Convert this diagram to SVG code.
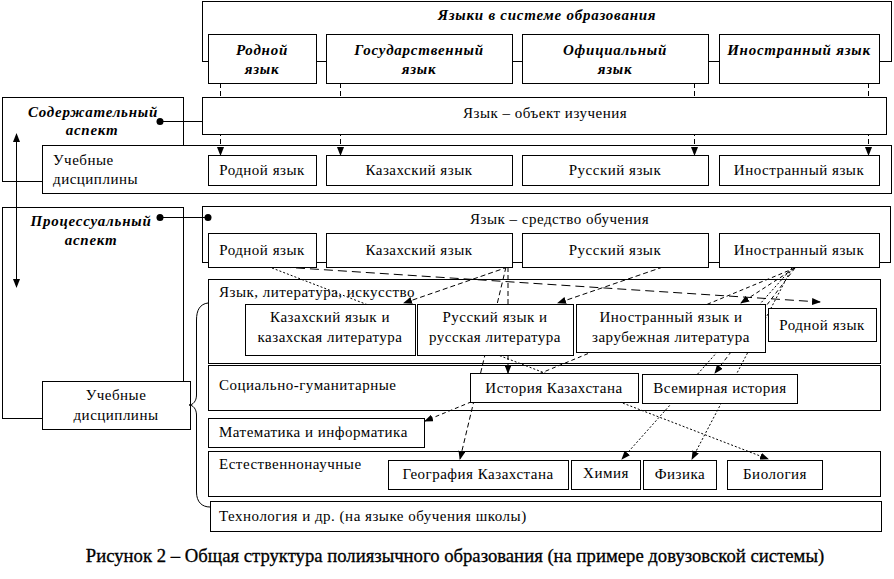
<svg xmlns="http://www.w3.org/2000/svg" width="894" height="579" viewBox="0 0 894 579">
<style>
.b{fill:#fff;stroke:#000;stroke-width:1}
.t{font-family:"Liberation Serif","Times New Roman",serif;font-size:15px;fill:#000;letter-spacing:0.5px}
.bi{font-weight:bold;font-style:italic;letter-spacing:0.75px}
.m{text-anchor:middle}
.ln{stroke:#000;fill:none;stroke-width:1}
.d1{stroke-dasharray:5 3}
.d2{stroke-dasharray:9 5}
.d3{stroke-dasharray:2 2}
.d4{stroke-dasharray:4 3}
.cap{font-family:"Liberation Serif","Times New Roman",serif;font-size:18.7px;fill:#000;stroke:#000;stroke-width:0.3;text-anchor:middle}
</style>
<defs>
<marker id="ah" markerWidth="9" markerHeight="7" refX="8" refY="3.5" orient="auto-start-reverse" markerUnits="userSpaceOnUse">
<path d="M0,0 L9,3.5 L0,7 z" fill="#000"/>
</marker>
</defs>
<rect width="894" height="579" fill="#fff"/>
<g id="containers">
<g id="aspect-content"><rect class="b" x="2.5" y="97.5" width="181" height="84"/>
<text class="t bi m" x="93" y="117">Содержательный</text><text class="t bi m" x="92" y="135">аспект</text></g>
<g id="subjects-1"><rect class="b" x="42.5" y="145.5" width="849" height="48"/>
<text class="t" x="53" y="165">Учебные</text><text class="t" x="53" y="184">дисциплины</text></g>
<g id="lang-system"><rect class="b" x="202.5" y="1.5" width="689" height="60"/>
<text class="t bi m" x="547" y="20">Языки в системе образования</text></g>
<g id="aspect-process"><rect class="b" x="2.5" y="207.5" width="181" height="211"/>
<text class="t bi m" x="91" y="226">Процессуальный</text><text class="t bi m" x="91" y="245">аспект</text></g>
<g id="subjects-2"><rect class="b" x="42.5" y="381.5" width="148" height="48"/>
<text class="t m" x="116" y="400">Учебные</text><text class="t m" x="116" y="420">дисциплины</text></g>
<g id="lang-medium"><rect class="b" x="202.5" y="206.5" width="688" height="56"/>
<text class="t" x="470" y="224">Язык – средство обучения</text></g>
<g id="g-lang-lit"><rect class="b" x="208.5" y="279.5" width="672" height="84"/>
<text class="t" x="219" y="297">Язык, литература, искусство</text></g>
<g id="g-social"><rect class="b" x="208.5" y="365.5" width="672" height="45"/>
<text class="t" x="219" y="390">Социально-гуманитарные</text></g>
<g id="g-math"><rect class="b" x="208.5" y="418.5" width="216" height="29"/>
<text class="t" x="219" y="437">Математика и информатика</text></g>
<g id="g-natural"><rect class="b" x="208.5" y="451.5" width="672" height="45"/>
<text class="t" x="219" y="469">Естественнонаучные</text></g>
<g id="g-tech"><rect class="b" x="210.5" y="501.5" width="671" height="30"/>
<text class="t" x="219" y="521">Технология и др. (на языке обучения школы)</text></g>
</g>
<g id="connectors">
<path class="ln d1" d="M220.5,83 V155" marker-end="url(#ah)"/>
<path class="ln d1" d="M340.5,83 V155" marker-end="url(#ah)"/>
<path class="ln d1" d="M694.5,83 V155" marker-end="url(#ah)"/>
<path class="ln d1" d="M868.5,83 V155" marker-end="url(#ah)"/>
<path class="ln" d="M160,121.5 H208"/>
<circle cx="160" cy="121.5" r="3.5"/><circle cx="208" cy="121.5" r="3.5"/>
<path class="ln" d="M160,217.5 H208"/>
<circle cx="160" cy="217.5" r="3.5"/><circle cx="208" cy="217.5" r="3.5"/>
<path class="ln" d="M16.5,134 V287" marker-start="url(#ah)" marker-end="url(#ah)"/>
<path class="ln" d="M208,303 C200,304 196.5,310 196.5,320 L196.5,395 C196.5,401 193,405 189,405 C193,405 196.5,409 196.5,415 L196.5,492 C196.5,502 202,507 210,507"/>
<path class="ln d1" d="M508,267 L404,303" marker-end="url(#ah)"/>
<path class="ln d1" d="M508,267 V373" marker-end="url(#ah)"/>
<path class="ln d1" d="M506,267 L460,459" marker-end="url(#ah)"/>
<path class="ln d1" d="M663,267 L558,303" marker-end="url(#ah)"/>
<path class="ln d2" d="M282,267 L820,302" marker-end="url(#ah)"/>
<path class="ln d3" d="M272,268 L768,459" marker-end="url(#ah)"/>
<path class="ln d4" d="M795,268 L741,303" marker-end="url(#ah)"/>
<path class="ln d4" d="M795,268 L425,421" marker-end="url(#ah)"/>
<path class="ln d4" d="M795,268 L715,373" marker-end="url(#ah)"/>
<path class="ln d3" d="M792,268 L622,459" marker-end="url(#ah)"/>
<path class="ln d3" d="M792,268 L692,459" marker-end="url(#ah)"/>
</g>
<g id="nodes">
<g id="top-native"><rect class="b" x="208.5" y="34.5" width="108" height="49"/><text class="t bi m" x="262" y="55">Родной</text><text class="t bi m" x="262" y="74">язык</text></g>
<g id="top-state"><rect class="b" x="326.5" y="34.5" width="186" height="49"/><text class="t bi m" x="419" y="55">Государственный</text><text class="t bi m" x="419" y="74">язык</text></g>
<g id="top-official"><rect class="b" x="522.5" y="34.5" width="186" height="49"/><text class="t bi m" x="615" y="55">Официальный</text><text class="t bi m" x="615" y="74">язык</text></g>
<g id="top-foreign"><rect class="b" x="719.5" y="34.5" width="160" height="49"/><text class="t bi m" x="799" y="55">Иностранный язык</text></g>
<g id="object"><rect class="b" x="202.5" y="97.5" width="684" height="37"/><text class="t" x="463" y="118">Язык – объект изучения</text></g>
<g id="s1-native"><rect class="b" x="208.5" y="155.5" width="108" height="30"/><text class="t m" x="262" y="175">Родной язык</text></g>
<g id="s1-kaz"><rect class="b" x="326.5" y="155.5" width="186" height="30"/><text class="t m" x="419" y="175">Казахский язык</text></g>
<g id="s1-rus"><rect class="b" x="522.5" y="155.5" width="186" height="30"/><text class="t m" x="615" y="175">Русский язык</text></g>
<g id="s1-for"><rect class="b" x="719.5" y="155.5" width="160" height="30"/><text class="t m" x="799" y="175">Иностранный язык</text></g>
<g id="m-native"><rect class="b" x="208.5" y="233.5" width="108" height="34"/><text class="t m" x="262" y="255">Родной язык</text></g>
<g id="m-kaz"><rect class="b" x="326.5" y="233.5" width="186" height="34"/><text class="t m" x="419" y="255">Казахский язык</text></g>
<g id="m-rus"><rect class="b" x="522.5" y="233.5" width="186" height="34"/><text class="t m" x="615" y="255">Русский язык</text></g>
<g id="m-for"><rect class="b" x="719.5" y="233.5" width="160" height="34"/><text class="t m" x="799" y="255">Иностранный язык</text></g>
<g id="kaz-lit"><rect class="b" x="245.5" y="304.5" width="170" height="51"/><text class="t m" x="330" y="322">Казахский язык и</text><text class="t m" x="330" y="342">казахская  литература</text></g>
<g id="rus-lit"><rect class="b" x="417.5" y="304.5" width="156" height="51"/><text class="t m" x="495" y="322">Русский язык и</text><text class="t m" x="495" y="342">русская литература</text></g>
<g id="for-lit"><rect class="b" x="576.5" y="304.5" width="189" height="48"/><text class="t m" x="671" y="322">Иностранный язык и</text><text class="t m" x="671" y="342">зарубежная литература</text></g>
<g id="native-subj"><rect class="b" x="768.5" y="308.5" width="108" height="33"/><text class="t m" x="822" y="330">Родной язык</text></g>
<g id="hist-kz"><rect class="b" x="470.5" y="373.5" width="168" height="29"/><text class="t m" x="554" y="393">История Казахстана</text></g>
<g id="hist-world"><rect class="b" x="642.5" y="374.5" width="155" height="29"/><text class="t m" x="720" y="393">Всемирная история</text></g>
<g id="geo-kz"><rect class="b" x="388.5" y="460.5" width="180" height="29"/><text class="t m" x="478" y="479">География Казахстана</text></g>
<g id="chem"><rect class="b" x="571.5" y="460.5" width="69" height="29"/><text class="t m" x="606" y="478">Химия</text></g>
<g id="phys"><rect class="b" x="643.5" y="460.5" width="73" height="29"/><text class="t m" x="680" y="479">Физика</text></g>
<g id="bio"><rect class="b" x="727.5" y="460.5" width="95" height="29"/><text class="t m" x="775" y="479">Биология</text></g>
</g>
<text class="cap" x="455" y="562">Рисунок 2 – Общая структура полиязычного образования (на примере довузовской системы)</text>
</svg>
